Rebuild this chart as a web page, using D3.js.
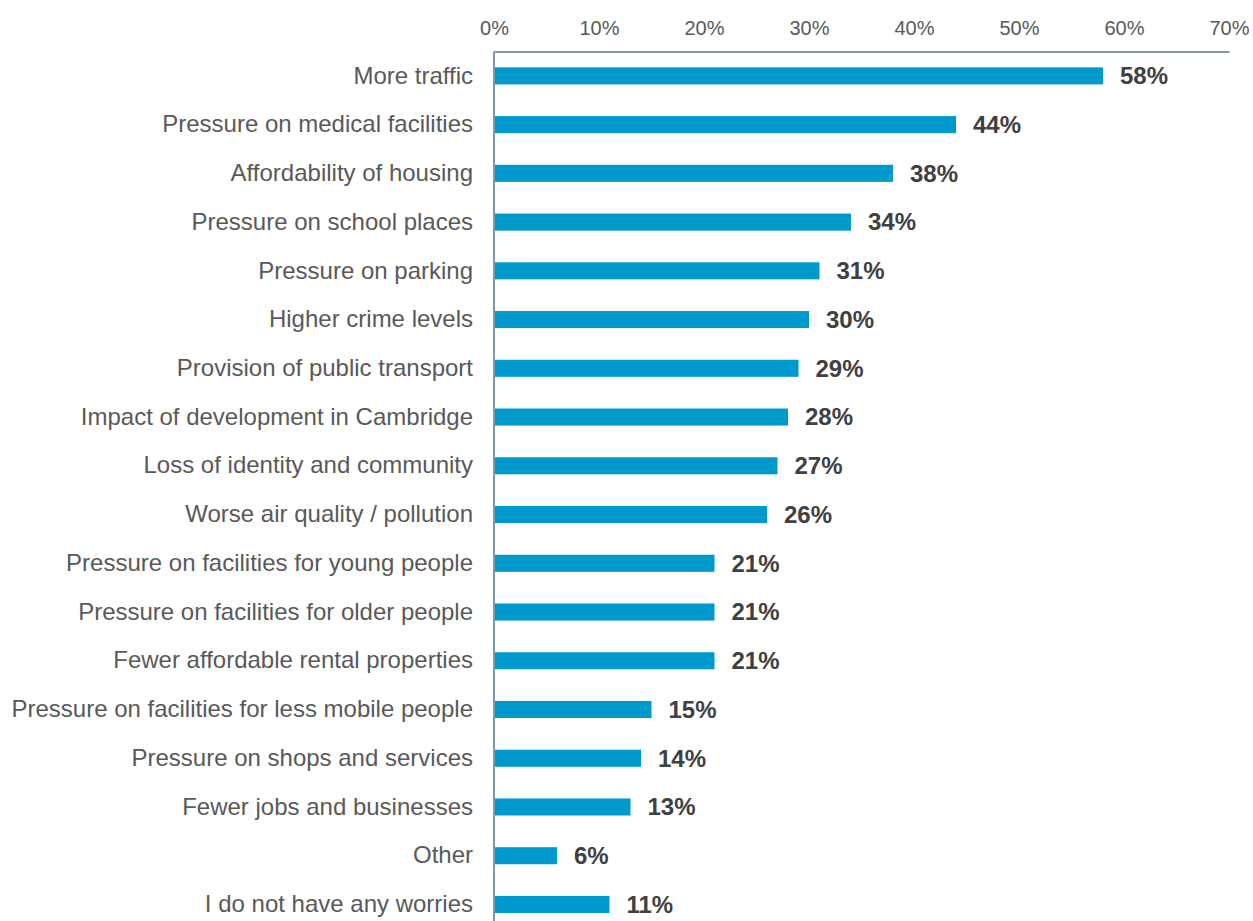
<!DOCTYPE html>
<html><head><meta charset="utf-8">
<script src="https://cdn.jsdelivr.net/npm/d3@7"></script>
<style>body{margin:0;background:#fff;}svg{display:block;font-family:"Liberation Sans",Arial,sans-serif;}</style>
</head><body>
<svg id="c" width="1253" height="921"></svg>
<script>
const categories = ["More traffic","Pressure on medical facilities","Affordability of housing","Pressure on school places","Pressure on parking","Higher crime levels","Provision of public transport","Impact of development in Cambridge","Loss of identity and community","Worse air quality / pollution","Pressure on facilities for young people","Pressure on facilities for older people","Fewer affordable rental properties","Pressure on facilities for less mobile people","Pressure on shops and services","Fewer jobs and businesses","Other","I do not have any worries"];
const values = [58,44,38,34,31,30,29,28,27,26,21,21,21,15,14,13,6,11];
const tickValues = [0,10,20,30,40,50,60,70];

(function(){
const svg = d3.select("#c");
const mLeft = 494, mRight = 1229, mTop = 51.5, bandStep = 48.74;
const x = d3.scaleLinear().domain([0,70]).range([mLeft,mRight]);
const y = d3.scaleBand().domain(categories).range([mTop, mTop + bandStep*categories.length]).paddingInner(0.65).paddingOuter(0.325);

// bars
svg.selectAll("rect.bar").data(categories).join("rect")
  .attr("x", x(0)).attr("y", d=>y(d)).attr("width", (d,i)=>x(values[i])-x(0))
  .attr("height", y.bandwidth()).attr("fill","#0099cc");

// top axis
const xAxis = d3.axisTop(x).tickValues(tickValues).tickFormat(d=>d+"%").tickSize(0).tickPadding(17);
const gx = svg.append("g").attr("transform",`translate(0,${mTop})`).call(xAxis);
gx.select(".domain").attr("stroke","#8497a8").attr("stroke-width",2);
gx.selectAll("text").attr("font-size",20).attr("fill","#595959").attr("font-family","Liberation Sans, Arial, sans-serif");

// left axis
const yAxis = d3.axisLeft(y).tickSize(0).tickPadding(21);
const gy = svg.append("g").attr("transform",`translate(${mLeft},0)`).call(yAxis);
gy.select(".domain").attr("stroke","#8497a8").attr("stroke-width",2).attr("d",`M0,${mTop}V921`);
gy.selectAll("text").attr("font-size",24).attr("fill","#595959").attr("font-family","Liberation Sans, Arial, sans-serif");

// value labels
svg.selectAll("text.val").data(categories).join("text").attr("class","val")
  .attr("x",(d,i)=>x(values[i])+17).attr("y",d=>y(d)+y.bandwidth()/2).attr("dy","0.35em")
  .attr("font-size",24).attr("font-weight","bold").attr("fill","#404040")
  .text((d,i)=>values[i]+"%");
})();
</script>
</body></html>
